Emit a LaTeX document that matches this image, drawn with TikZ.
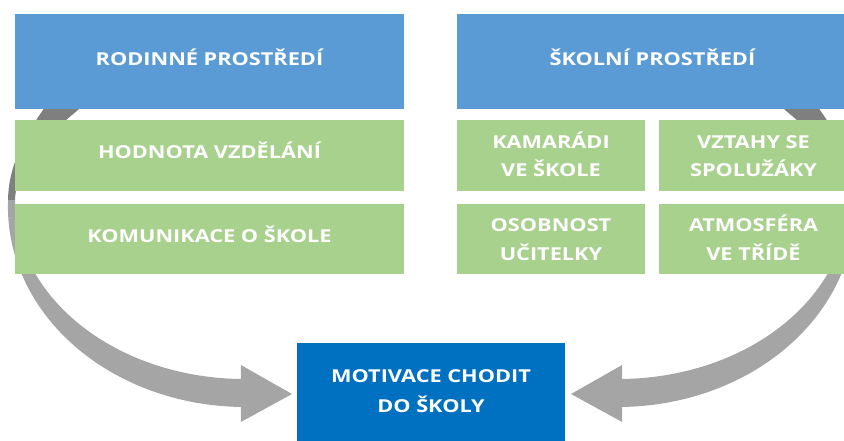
\documentclass[tikz,border=0pt]{standalone}
\usepackage{fontspec}
\setmainfont{Open Sans}
\usepackage{graphicx}
\newcommand{\sx}{1.22}
\newcommand{\T}[1]{\scalebox{\sx}[1]{#1}}
\definecolor{topblue}{HTML}{5B9BD5}
\definecolor{leafgreen}{HTML}{A9D18E}
\definecolor{goalblue}{HTML}{0070C0}
\definecolor{arrowlight}{HTML}{A5A5A5}
\definecolor{arrowdark}{HTML}{7F7F7F}
\newcommand{\twistarrow}{%
  \fill[arrowdark] (8.1,200) .. controls (8,170) and (22,140) .. (43,110) -- (70,68)
    -- (112,68) -- (78,110) .. controls (50,133) and (16,165) .. (15,200) -- cycle;
  \fill[arrowlight] (8.1,200) arc[start angle=182, end angle=91, x radius=237, y radius=200]
    -- (240.9,422) -- (292,394) -- (240.9,365) -- (241,379)
    arc[start angle=91, end angle=180, x radius=230, y radius=179] -- cycle;
}
\tikzset{
  boxstyle/.style={draw=none, inner sep=0pt, outer sep=0pt, anchor=north west},
  headbox/.style={boxstyle, fill=topblue},
  leafbox/.style={boxstyle, fill=leafgreen},
  goalbox/.style={boxstyle, fill=goalblue},
  lbl/.style={text=white, font=\fontsize{17.8}{20}\selectfont\bfseries, anchor=base, inner sep=0pt}
}
\begin{document}
\begin{tikzpicture}[x=1pt,y=-1pt]
\useasboundingbox (0,0) rectangle (844,441);
\clip (0,0) rectangle (844,441);
% arrows (behind the boxes)
\twistarrow
\begin{scope}[xshift=863pt, xscale=-1]
\twistarrow
\end{scope}
% boxes
\node[headbox, minimum width=389pt, minimum height=95pt] (rod) at (15,14) {};
\node[headbox, minimum width=391pt, minimum height=95pt] (sko) at (457,14) {};
\node[leafbox, minimum width=389pt, minimum height=71pt] (hod) at (15,120) {};
\node[leafbox, minimum width=389pt, minimum height=70pt] (kom) at (15,204) {};
\node[leafbox, minimum width=188pt, minimum height=71pt] (kam) at (457,120) {};
\node[leafbox, minimum width=189pt, minimum height=71pt] (vzt) at (659,120) {};
\node[leafbox, minimum width=188pt, minimum height=70pt] (oso) at (457,204) {};
\node[leafbox, minimum width=189pt, minimum height=70pt] (atm) at (659,204) {};
\node[goalbox, minimum width=268pt, minimum height=110pt] (mot) at (297,343) {};
% labels
\node[lbl] (trod) at (209.5,66) {\T{RODINNÉ PROSTŘEDÍ}};
\node[lbl] (tsko) at (652.5,66) {\T{ŠKOLNÍ PROSTŘEDÍ}};
\node[lbl] (thod) at (209.5,159) {\T{HODNOTA VZDĚLÁNÍ}};
\node[lbl] (tkom) at (209.5,243) {\T{KOMUNIKACE O ŠKOLE}};
\node[lbl] (tkama) at (551,148.5) {\T{KAMARÁDI}};
\node[lbl] (tkamb) at (551,176.5) {\T{VE ŠKOLE}};
\node[lbl] (tvzta) at (753.5,148.5) {\T{VZTAHY SE}};
\node[lbl] (tvztb) at (753.5,176.5) {\T{SPOLUŽÁKY}};
\node[lbl] (tosoa) at (551,232) {\T{OSOBNOST}};
\node[lbl] (tosob) at (551,260) {\T{UČITELKY}};
\node[lbl] (tatma) at (753.5,232) {\T{ATMOSFÉRA}};
\node[lbl] (tatmb) at (753.5,260) {\T{VE TŘÍDĚ}};
\node[lbl] (tmota) at (431,382) {\T{MOTIVACE CHODIT}};
\node[lbl] (tmotb) at (431,412) {\T{DO ŠKOLY}};
\end{tikzpicture}
\end{document}
